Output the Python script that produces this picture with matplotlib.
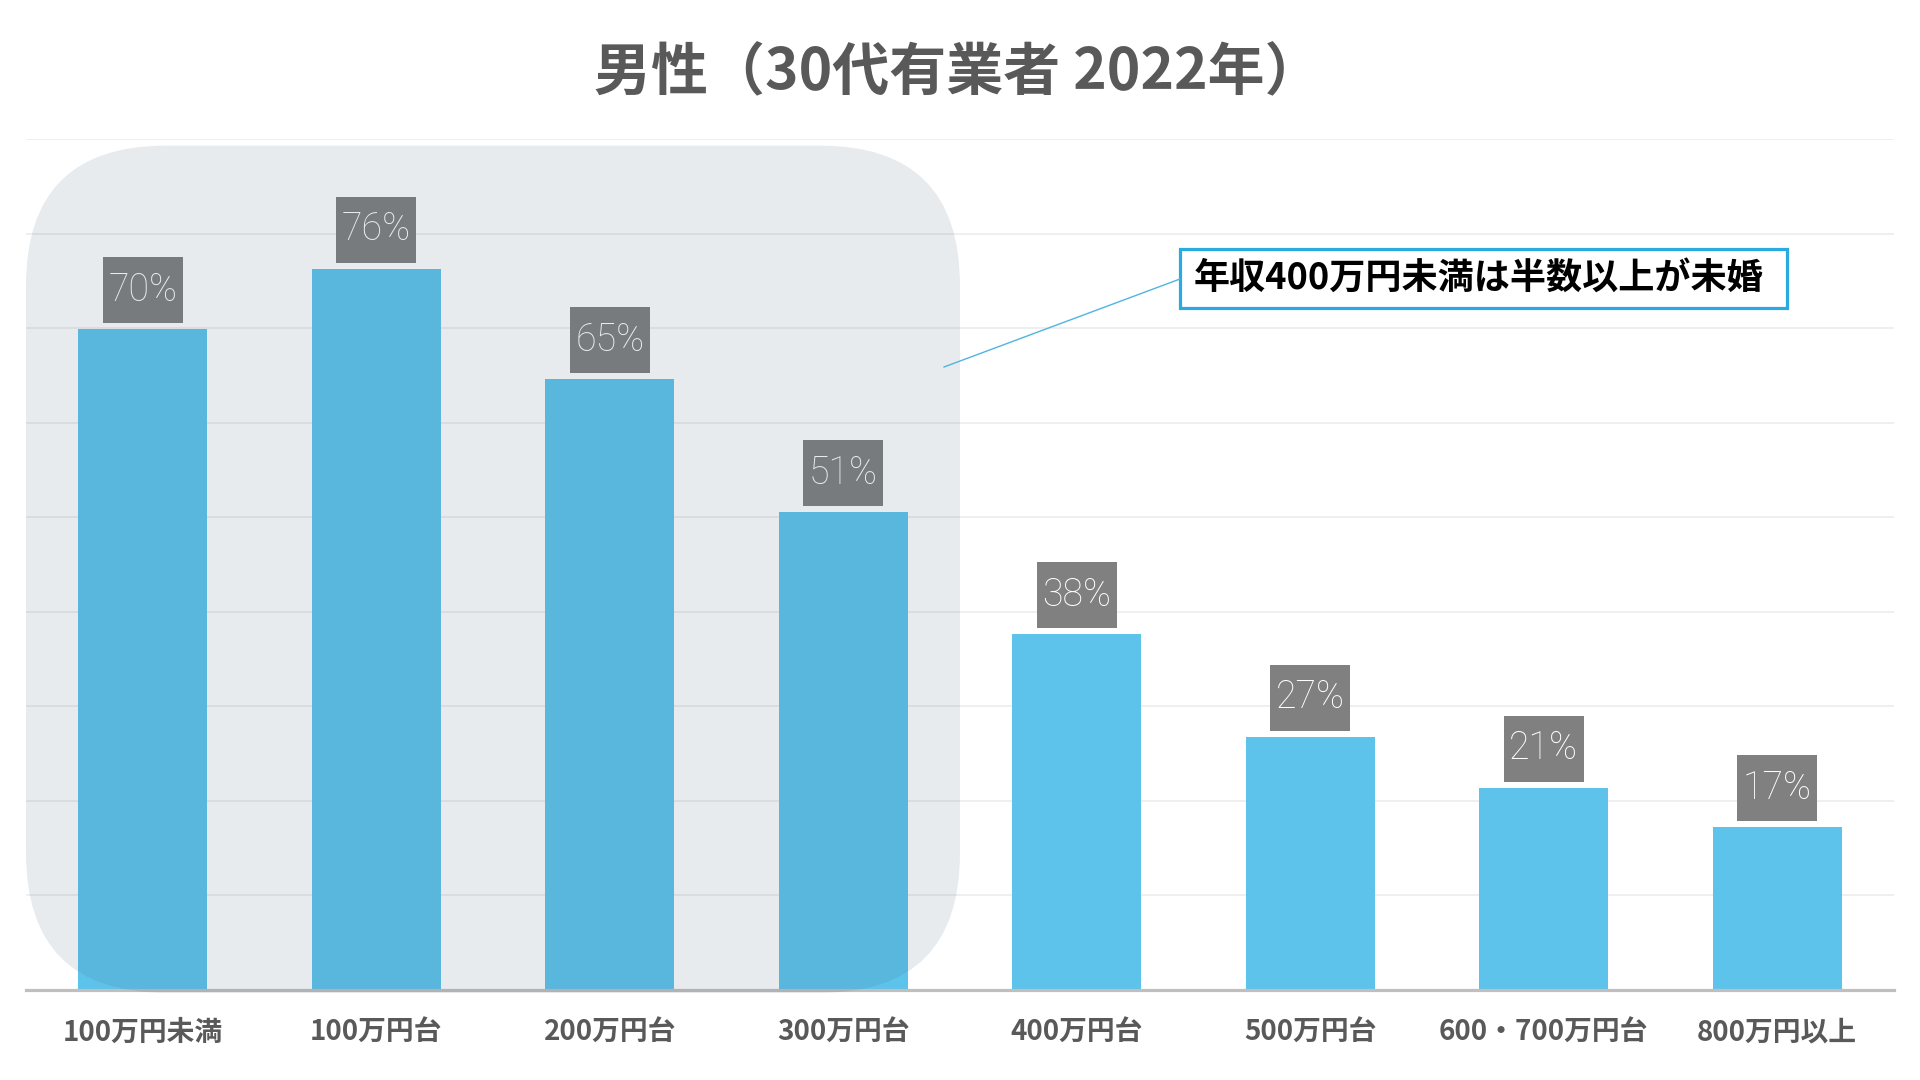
import matplotlib
matplotlib.use('Agg')
import matplotlib.pyplot as plt
from matplotlib.patches import FancyBboxPatch, Rectangle
from matplotlib.lines import Line2D

plt.rcParams['font.family'] = ['Noto Sans CJK JP', 'DejaVu Sans']

# データ
categories = ['100万円未満', '100万円台', '200万円台', '300万円台',
              '400万円台', '500万円台', '600・700万円台', '800万円以上']
values = [69.9, 76.3, 64.6, 50.5, 37.6, 26.8, 21.4, 17.2]
labels = ['70%', '76%', '65%', '51%', '38%', '27%', '21%', '17%']
title = '男性（30代有業者 2022年）'
note = '年収400万円未満は半数以上が未婚'

bar_color = '#5EC3EB'
text_gray = '#595959'

W, H = 1920, 1080
ax_w = 1868
fig = plt.figure(figsize=(19.2, 10.8), dpi=100)
ax = fig.add_axes([26 / W, 90 / H, ax_w / W, 851 / H])
ax.set_xlim(-0.5, 7.5)
ax.set_ylim(0, 90)

x = list(range(len(categories)))
ax.bar(x, values, width=0.553, color=bar_color, zorder=2)

# グリッド
ax.set_yticks(range(0, 91, 10))
ax.yaxis.grid(True, color='#EFEFEF', linewidth=1.4, zorder=0)
ax.tick_params(axis='y', left=False, labelleft=False)
ax.tick_params(axis='x', bottom=False, pad=17)
ax.set_xticks(x)
ax.set_xticklabels(categories, fontsize=20, fontweight='bold', color=text_gray)
for s in ['top', 'right', 'left']:
    ax.spines[s].set_visible(False)
ax.spines['bottom'].set_color('#BFBFBF')
ax.spines['bottom'].set_linewidth(2.3)
ax.spines['bottom'].set_zorder(3)

# 数値ラベル（灰色の箱）
px_x = ax_w / 8.0
px_y = 851 / 90.0
box_w = 80 / px_x
box_h = 66 / px_y
gap = 6 / px_y
for xi, v, lab in zip(x, values, labels):
    ax.add_patch(Rectangle((xi - box_w / 2, v + gap), box_w, box_h,
                           facecolor='#808080', edgecolor='none', zorder=4))
    ax.text(xi, v + gap + box_h / 2, lab, ha='center', va='center',
            fontsize=27, family=['Roboto', 'DejaVu Sans'], fontweight='light',
            color='white', zorder=5)

# 角丸の強調エリア
rs = 140 / px_x
hl = FancyBboxPatch((-0.5, -0.3), 4.0, 89.6,
                    boxstyle='round,pad=0,rounding_size=%f' % rs,
                    mutation_aspect=px_x / px_y,
                    facecolor='#3C5E77', alpha=0.12, edgecolor='none',
                    zorder=6, clip_on=False)
ax.add_patch(hl)

# 注記（引き出し線と枠）
fig.add_artist(Line2D([944 / W, 1180 / W], [1 - 367 / H, 1 - 279 / H],
                      color='#4FB5DF', linewidth=1.0))
fig.add_artist(Rectangle((1180 / W, 1 - 308 / H), 607 / W, 59 / H,
                         facecolor='white', edgecolor='#29ABE2',
                         linewidth=2.3, transform=fig.transFigure))
fig.text(1194 / W, 1 - 278 / H, note, ha='left', va='center',
         fontsize=26, fontweight='bold', color='black')

fig.text(958 / W, 1 - 73 / H, title, ha='center', va='center',
         fontsize=41, fontweight='bold', color=text_gray)

fig.savefig('out.png', dpi=100)
